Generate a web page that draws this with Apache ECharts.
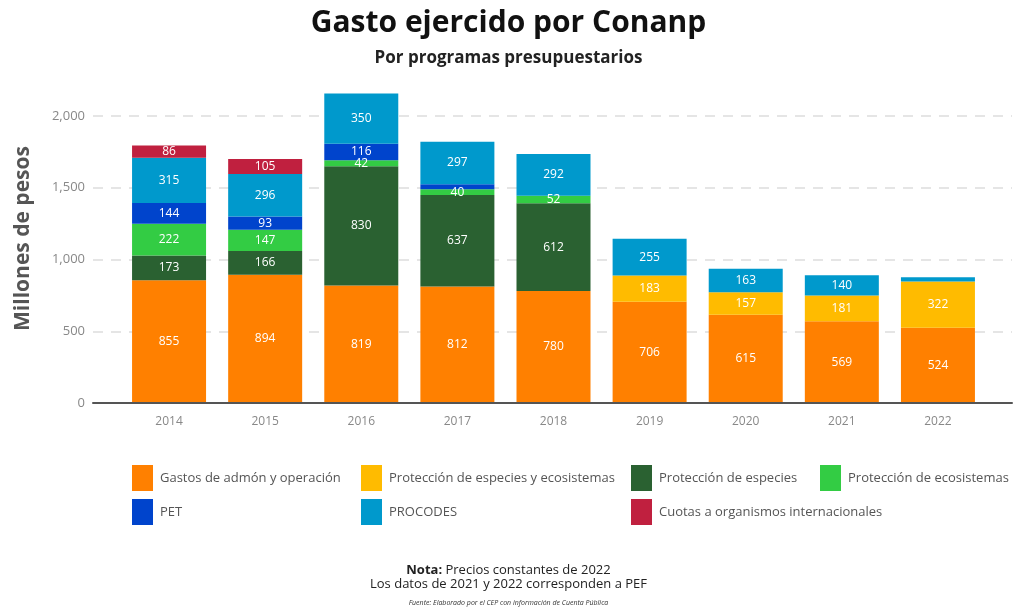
<!doctype html>
<html lang="es">

<head>
	<meta charset="UTF-8">
	<title>Gasto ejercido por Conanp</title>
	<script src="https://cdn.jsdelivr.net/npm/echarts@6/dist/echarts.min.js"></script>
	<style>
		html, body { margin: 0; padding: 0; background: #fff; }
		#chart { width: 1017px; height: 608px; }
	</style>
</head>

<body>
	<div id="chart"></div>

	<script>
		// datos (millones de pesos, precios de 2022)
		var years = ['2014', '2015', '2016', '2017', '2018', '2019', '2020', '2021', '2022'];
		var gastosAdmon = [855, 894, 819, 812, 780, 706, 615, 569, 524];
		var protEspEco = [null, null, null, null, null, 183, 157, 181, 322];
		var protEspecies = [173, 166, 830, 637, 612, null, null, null, null];
		var protEcosistemas = [222, 147, 42, 40, 52, null, null, null, null];
		var pet = [144, 93, 116, 35, null, null, null, null, null];
		var procodes = [315, 296, 350, 297, 292, 255, 163, 140, 30];
		var cuotas = [86, 105, null, null, null, null, null, null, null];
		var yTicks = [0, 500, 1000, 1500, 2000];

		var font = 'Open Sans';
		var chart = echarts.init(document.getElementById('chart'));

		function serie(name, data, color) {
			return {
				name: name,
				type: 'bar',
				stack: 'total',
				xAxisIndex: 0,
				yAxisIndex: 0,
				barWidth: 74,
				clip: false,
				itemStyle: { color: color },
				label: {
					show: true,
					position: 'inside',
					color: '#fff',
					fontSize: 12,
					fontFamily: font,
					formatter: function (p) {
						return p.value >= 39 ? p.value : '';
					}
				},
				data: data
			};
		}

		function leyenda(left, top, names) {
			return {
				orient: 'vertical',
				left: left,
				top: top,
				itemWidth: 21,
				itemHeight: 26,
				itemGap: 8,
				icon: 'rect',
				selectedMode: false,
				textStyle: { color: '#555', fontSize: 13, fontFamily: font, padding: [0, 0, 0, 2] },
				data: names
			};
		}

		var option = {
			backgroundColor: '#fff',
			animation: false,
			title: [
				{
					text: 'Gasto ejercido por Conanp',
					left: 'center',
					top: 3,
					textStyle: { fontSize: 30, fontWeight: 'bold', color: '#111', fontFamily: font }
				},
				{
					text: 'Por programas presupuestarios',
					left: 'center',
					top: 45,
					textStyle: { fontSize: 17, fontWeight: 'bold', color: '#222', fontFamily: font }
				},
				{
					text: '{b|Nota:} Precios constantes de 2022\nLos datos de 2021 y 2022 corresponden a PEF',
					left: 'center',
					top: 558,
					textStyle: {
						fontSize: 13, color: '#222', fontFamily: font, lineHeight: 14, fontWeight: 'normal', align: 'center',
						rich: { b: { fontWeight: 'bold', fontSize: 13, color: '#222', fontFamily: font } }
					}
				},
				{
					text: 'Fuente: Elaborado por el CEP con información de Cuenta Pública',
					left: 'center',
					top: 594,
					textStyle: { fontSize: 7, fontStyle: 'italic', fontWeight: 'normal', color: '#333', fontFamily: font }
				}
			],
			legend: [
				leyenda(127, 460, ['Gastos de admón y operación', 'PET']),
				leyenda(356, 460, ['Protección de especies y ecosistemas', 'PROCODES']),
				leyenda(626, 460, ['Protección de especies', 'Cuotas a organismos internacionales']),
				leyenda(815, 460, ['Protección de ecosistemas'])
			],
			grid: [
				{ left: 121, right: 31, top: 116, bottom: 205 },
				{ left: 93, right: 5, top: 116, bottom: 205 }
			],
			xAxis: [
				{
					type: 'category',
					gridIndex: 0,
					data: years,
					axisLine: { show: false },
					axisTick: { show: false },
					axisLabel: { color: '#888', fontSize: 12, fontFamily: font, margin: 13 }
				},
				{
					type: 'value',
					gridIndex: 1,
					min: 0,
					max: 1,
					z: 5,
					axisLine: { show: true, lineStyle: { color: '#555', width: 2 } },
					axisTick: { show: false },
					axisLabel: { show: false },
					splitLine: { show: false }
				}
			],
			yAxis: [
				{
					type: 'value',
					gridIndex: 0,
					min: 0,
					max: 2000,
					interval: 500,
					show: false,
					splitLine: { show: false }
				},
				{
					type: 'value',
					gridIndex: 1,
					min: 0,
					max: 2000,
					interval: 500,
					name: 'Millones de pesos',
					nameLocation: 'middle',
					nameGap: 59,
					nameTextStyle: { color: '#555', fontSize: 21, fontWeight: 'bold', fontFamily: font, padding: [0, 0, 0, 42] },
					axisLine: { show: false },
					axisTick: { show: false },
					axisLabel: {
						color: '#888', fontSize: 13, fontFamily: font, margin: 8,
						formatter: function (v) { return yTicks.indexOf(v) >= 0 ? v.toLocaleString('en-US') : ''; }
					},
					splitLine: { show: true, lineStyle: { color: '#ddd', type: [10, 8], width: 1.5 } }
				}
			],
			series: [
				serie('Gastos de admón y operación', gastosAdmon, '#FF8000'),
				serie('Protección de especies y ecosistemas', protEspEco, '#FFBB00'),
				serie('Protección de especies', protEspecies, '#2A6131'),
				serie('Protección de ecosistemas', protEcosistemas, '#33CC44'),
				serie('PET', pet, '#0044CC'),
				serie('PROCODES', procodes, '#0099CC'),
				serie('Cuotas a organismos internacionales', cuotas, '#C0203F')
			]
		};

		chart.setOption(option);
	</script>

</body>

</html>
